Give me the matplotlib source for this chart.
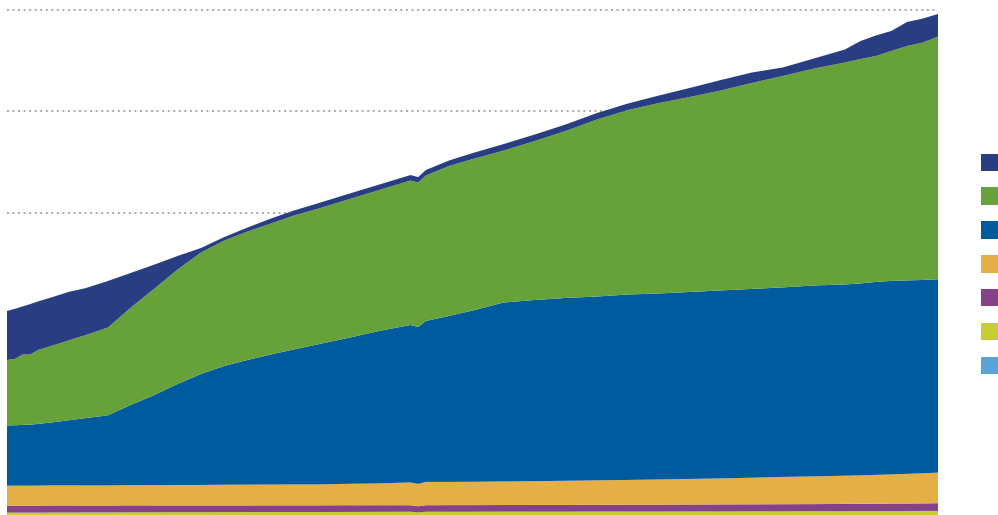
import matplotlib
matplotlib.use("Agg")
import matplotlib.pyplot as plt
from matplotlib.patches import Patch

# quarter index of each sample
quarters = [0, 1, 2, 3, 4, 6, 8, 10, 13, 16, 19, 22, 25, 28, 31, 34, 37, 40, 44, 48,
            52, 53, 54, 57, 60, 64, 68, 72, 76, 80, 84, 88, 92, 96, 100, 104, 108,
            110, 112, 114, 116, 118, 120]

series_names = ["Series A", "Series B", "Series C", "Series D", "Series E", "Series F", "Series G"]

light_blue = [1.5, 1.5, 1.5, 1.5, 1.5, 1.5, 1.5, 1.5, 1.5, 1.5, 1.5, 1.5, 1.5, 1.5, 1.5,
              1.5, 1.5, 1.5, 1.5, 1.5, 1.5, 1.5, 1.5, 1.5, 1.5, 1.5, 1.5, 1.5, 1.5, 1.5,
              1.5, 1.5, 1.5, 1.5, 1.5, 1.5, 1.5, 1.5, 1.5, 1.5, 1.5, 1.5, 1.5]
yellow = [2.8, 2.8, 2.8, 2.8, 2.8, 2.9, 2.9, 3.0, 3.0, 3.1, 3.1, 3.2, 3.2, 3.3, 3.3,
          3.4, 3.4, 3.4, 3.5, 3.6, 3.7, 3.0, 3.7, 3.7, 3.7, 3.8, 3.8, 3.8, 3.9, 3.9,
          3.9, 4.0, 4.0, 4.1, 4.1, 4.2, 4.2, 4.3, 4.3, 4.4, 4.4, 4.5, 4.5]
purple = [6.9, 6.9, 6.9, 6.9, 6.9, 7.0, 7.0, 6.8, 6.8, 6.9, 6.8, 6.7, 6.7, 6.6, 6.6,
          6.6, 6.6, 6.6, 6.6, 6.5, 6.4, 6.1, 6.4, 6.5, 6.5, 6.5, 6.6, 6.6, 6.6, 6.7,
          6.8, 6.8, 6.9, 6.9, 7.0, 7.0, 7.2, 7.2, 7.3, 7.3, 7.4, 7.4, 7.6]
orange = [19.7, 19.7, 19.7, 19.7, 19.7, 19.8, 19.8, 19.8, 19.8, 20.0, 20.0, 20.2, 20.2,
          20.4, 20.5, 20.5, 20.6, 20.6, 21.1, 21.5, 22.5, 22.0, 23.0, 22.9, 23.0, 23.2,
          23.4, 23.8, 24.1, 24.4, 24.8, 25.2, 25.6, 26.2, 26.9, 27.3, 27.8, 28.0, 28.4,
          28.8, 29.2, 29.7, 30.1]
blue = [59.3, 59.5, 59.8, 60.1, 60.8, 62.2, 64.1, 66.2, 69.1, 79.1, 88.8, 99.5, 109.3,
        117.0, 122.8, 128.1, 133.0, 137.9, 143.8, 150.2, 155.1, 154.6, 158.6, 163.5,
        168.7, 176.3, 178.5, 180.1, 181.1, 182.7, 183.2, 184.2, 185.2, 186.0, 186.7,
        188.1, 188.4, 189.1, 190.1, 190.6, 190.6, 190.4, 190.5]
green = [64.5, 65.3, 69.4, 69.1, 72.9, 75.8, 78.8, 81.6, 86.5, 96.0, 104.9, 112.8, 119.7,
         123.6, 126.6, 129.0, 132.0, 133.5, 136.4, 138.9, 142.3, 142.3, 143.3, 147.8,
         149.2, 149.7, 156.6, 164.5, 174.3, 181.7, 187.6, 192.1, 197.0, 202.9, 208.3,
         213.7, 218.7, 221.1, 222.6, 226.6, 231.0, 233.9, 239.0]
navy = [48.3, 49.3, 47.3, 49.7, 47.8, 47.8, 47.8, 46.3, 45.8, 34.0, 23.6, 13.3, 4.4,
        3.4, 3.9, 4.9, 4.9, 5.4, 5.4, 5.4, 5.4, 5.4, 5.4, 5.4, 5.9, 6.4, 6.4, 6.4, 6.4,
        6.4, 7.4, 8.9, 10.3, 10.3, 8.4, 9.9, 12.8, 17.7, 20.2, 19.7, 23.6, 23.6, 22.4]

colors = ["#5aa3d8", "#c8ce32", "#864188", "#e6af46", "#005b9e", "#66a13a", "#293d82"]
grid_values = [100, 200, 300, 400, 500]

W, H = 998, 515
fig = plt.figure(figsize=(W / 100, H / 100), dpi=100)
ax = fig.add_axes([7 / W, 0, (938 - 7) / W, 1])

layers = [light_blue, yellow, purple, orange, blue, green, navy]
ax.stackplot(quarters, *layers, colors=colors, linewidth=0, zorder=2,
             labels=list(reversed(series_names)))

ax.set_xlim(quarters[0], quarters[-1])
ax.set_ylim(1.97, 509.36)
ax.set_yticks(grid_values)
ax.set_xticks([])
ax.grid(axis="y", color="#a8a8a8", linestyle=(0, (1, 1.85)), linewidth=1.4, zorder=0)
ax.set_axisbelow(True)
ax.tick_params(left=False, labelleft=False, bottom=False)
for s in ax.spines.values():
    s.set_visible(False)

# legend: colour squares only (top = last series)
handles = [Patch(facecolor=c, edgecolor="none") for c in reversed(colors)]
fs = 10
px = fs * 100 / 72
fig.legend(handles, [""] * len(handles), loc="upper left",
           bbox_to_anchor=(980.5 / W, 1 - 153.5 / H), frameon=False, fontsize=fs,
           handlelength=21.5 / px, handleheight=21.5 / px, labelspacing=16.5 / px,
           borderpad=0, borderaxespad=0, handletextpad=0)

fig.savefig("out.png", dpi=100)
